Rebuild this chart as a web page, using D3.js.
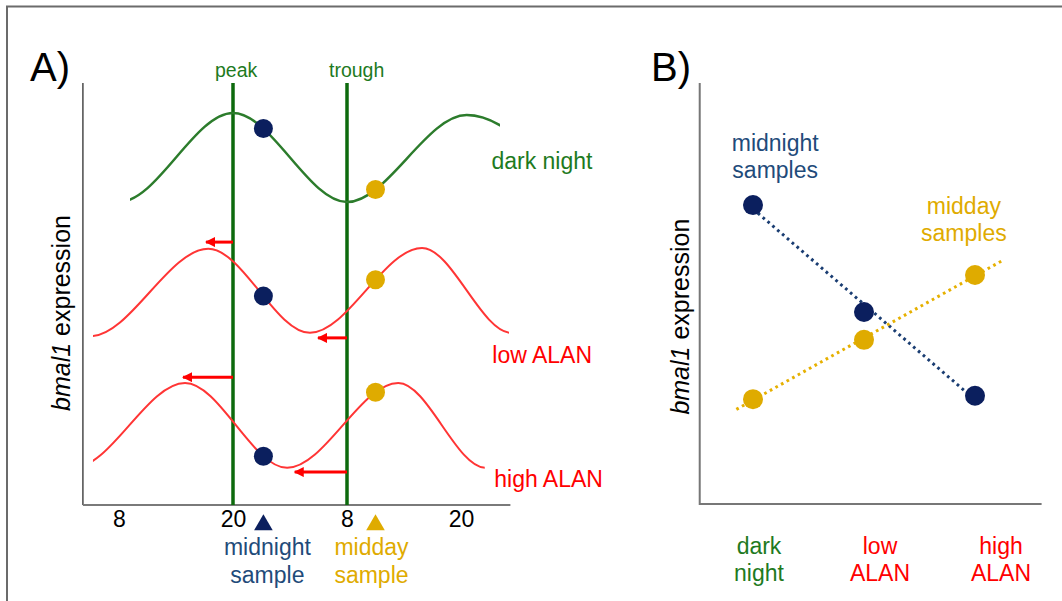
<!DOCTYPE html>
<html>
<head>
<meta charset="utf-8">
<script src="https://cdn.jsdelivr.net/npm/d3@7"></script>
<style>
  html, body { margin: 0; padding: 0; background: #fff; }
  svg { display: block; font-family: "Liberation Sans", Arial, sans-serif; }
</style>
</head>
<body>
<svg id="chart" width="1062" height="601"></svg>
<script>
// ---- Panel A data (time in hours, level in arbitrary expression units 0-100) ----
const timeTicks = [8, 20, 32, 44];
const timeTickLabels = ['8', '20', '8', '20'];
const axisTimeRange = [4.2, 49.2];
const refTimes = [20, 32];
const refLabels = ['peak', 'trough'];

// peaks / troughs of each rhythm (one extra cycle point each side), and the visible part
const darkTimes = [-4, 8, 20, 32, 44.6, 56.6];
const darkLevels = [92.9, 71.8, 92.9, 71.8, 92.4, 71.8];
const darkVisible = [9.16, 48.1];

const lowTimes = [-6.5, 5.0, 17.4, 28.1, 39.9, 49.3, 60.5];
const lowLevels = [60.7, 40.0, 60.7, 40.8, 60.9, 40.8, 60.9];
const lowVisible = [5.26, 49.05];

const highTimes = [-8.5, 3.2, 14.95, 25.7, 37.4, 46.6, 57];
const highLevels = [28.9, 8.8, 28.9, 8.8, 28.9, 8.8, 28.9];
const highVisible = [5.26, 46.5];

const curveNames = ['dark night', 'low ALAN', 'high ALAN'];
const curveLabelLevels = [79.6, 33.6, 4.3];
const curveLabelTimes = [47.2, 47.3, 47.5];

const sampleTimes = [23.2, 35.0];
const sampleNames = [['midnight', 'sample'], ['midday', 'sample']];

// phase shift arrows: [from, to, level]
const lowArrows = [[20, 17.16, 62.3], [32, 28.95, 39.6]];
const highArrows = [[20, 14.74, 30.3], [32, 26.5, 7.8]];

// ---- Panel B data ----
const conditions = ['dark night', 'low ALAN', 'high ALAN'];
const conditionLines = [['dark', 'night'], ['low', 'ALAN'], ['high', 'ALAN']];
const midnightValues = [7.10, 4.56, 2.57];
const middayValues = [2.49, 3.90, 5.44];
const midnightTrendSpan = [0, 2];
const middayTrendSpan = [-0.15, 2.25];

const GREEN = '#1e7a1e', GREEN_LINE = '#0d6a0d', GREEN_CURVE = '#2c7c2c';
const RED = '#ff0000', RED_CURVE = '#ff3535';
const NAVY = '#0b1f5e', NAVY_TEXT = '#1f4b7a', GOLD = '#dfab00', GOLD_LINE = '#e6b000';

const svg = d3.select('#chart');

// outer frame (top and left edges only)
svg.append('path')
  .attr('d', 'M7,601 V6.5 H1062')
  .attr('fill', 'none')
  .attr('stroke', '#6b6b6b')
  .attr('stroke-width', 2);

// ================= Panel A =================
const xA = d3.scaleLinear().domain([8, 44]).range([119, 461]);
const yA = d3.scaleLinear().domain([0, 100]).range([505, 83]);
const gA = svg.append('g');

gA.append('text')
  .attr('x', 30).attr('y', 81)
  .attr('font-size', 40)
  .text('A)');

// axes
gA.append('line')
  .attr('x1', xA(axisTimeRange[0])).attr('x2', xA(axisTimeRange[0]))
  .attr('y1', yA(100)).attr('y2', yA(0))
  .attr('stroke', '#4a4a4a').attr('stroke-width', 1.5);
gA.append('line')
  .attr('x1', xA(axisTimeRange[0])).attr('x2', xA(axisTimeRange[1]))
  .attr('y1', yA(0)).attr('y2', yA(0))
  .attr('stroke', '#7a7a7a').attr('stroke-width', 2);

const xAxisA = d3.axisBottom(xA)
  .tickValues(timeTicks)
  .tickSize(0)
  .tickPadding(6)
  .tickFormat((d, i) => timeTickLabels[i]);
const axA = gA.append('g').attr('transform', `translate(0,${yA(0)})`).call(xAxisA);
axA.attr('font-size', null).attr('font-family', null);
axA.select('.domain').remove();
axA.selectAll('text')
  .attr('font-size', 23)
  .attr('fill', '#000');

// y label
const yLabA = gA.append('text')
  .attr('transform', `translate(70,${yA(45.5)}) rotate(-90)`)
  .attr('text-anchor', 'middle')
  .attr('font-size', 25);
yLabA.append('tspan').attr('font-style', 'italic').text('bmal1');
yLabA.append('tspan').text(' expression');

// peak / trough lines
refTimes.forEach((t, i) => {
  gA.append('line')
    .attr('x1', xA(t)).attr('x2', xA(t))
    .attr('y1', yA(100)).attr('y2', yA(0))
    .attr('stroke', GREEN_LINE).attr('stroke-width', 3.5);
  gA.append('text')
    .attr('x', xA(t) - 18).attr('y', 77)
    .attr('font-size', 19.5)
    .attr('fill', GREEN)
    .text(refLabels[i]);
});

// clip each curve to its visible window
const defs = svg.append('defs');
const curveSets = [
  { times: darkTimes, levels: darkLevels, visible: darkVisible, color: GREEN_CURVE, width: 2.5, label: GREEN },
  { times: lowTimes, levels: lowLevels, visible: lowVisible, color: RED_CURVE, width: 2, label: RED },
  { times: highTimes, levels: highLevels, visible: highVisible, color: RED_CURVE, width: 2, label: RED }
];

const line = d3.line()
  .x(d => xA(d[0]))
  .y(d => yA(d[1]))
  .curve(d3.curveMonotoneX);

// find y on a drawn path at a given x
function yAtX(pathNode, px) {
  const total = pathNode.getTotalLength();
  let lo = 0, hi = total;
  for (let k = 0; k < 40; k++) {
    const mid = (lo + hi) / 2;
    if (pathNode.getPointAtLength(mid).x < px) lo = mid; else hi = mid;
  }
  return pathNode.getPointAtLength((lo + hi) / 2).y;
}

defs.append('marker')
  .attr('id', 'arrowhead')
  .attr('viewBox', '0 0 10 10')
  .attr('refX', 9).attr('refY', 5)
  .attr('markerUnits', 'userSpaceOnUse')
  .attr('markerWidth', 11).attr('markerHeight', 10)
  .attr('orient', 'auto')
  .append('path')
  .attr('d', 'M0,0 L10,5 L0,10 Z')
  .attr('fill', RED);

curveSets.forEach((c, i) => {
  const clipId = 'clip' + i;
  defs.append('clipPath').attr('id', clipId)
    .append('rect')
    .attr('x', xA(c.visible[0])).attr('width', xA(c.visible[1]) - xA(c.visible[0]))
    .attr('y', 0).attr('height', 601);
  const pts = c.times.map((t, j) => [t, c.levels[j]]);
  const p = gA.append('path')
    .datum(pts)
    .attr('d', line)
    .attr('fill', 'none')
    .attr('stroke', c.color)
    .attr('stroke-width', c.width)
    .attr('clip-path', `url(#${clipId})`);
  c.node = p.node();

  gA.append('text')
    .attr('x', xA(curveLabelTimes[i])).attr('y', yA(curveLabelLevels[i]))
    .attr('font-size', 23)
    .attr('fill', c.label)
    .text(curveNames[i]);
});

// phase shift arrows
[lowArrows, highArrows].forEach(arr => {
  arr.forEach(a => {
    gA.append('line')
      .attr('x1', xA(a[0])).attr('x2', xA(a[1]))
      .attr('y1', yA(a[2])).attr('y2', yA(a[2]))
      .attr('stroke', RED).attr('stroke-width', 3)
      .attr('marker-end', 'url(#arrowhead)');
  });
});

// sample dots on each curve
curveSets.forEach(c => {
  sampleTimes.forEach((t, j) => {
    gA.append('circle')
      .attr('cx', xA(t))
      .attr('cy', yAtX(c.node, xA(t)))
      .attr('r', 9.5)
      .attr('fill', j === 0 ? NAVY : GOLD);
  });
});

// sample markers and labels
sampleTimes.forEach((t, j) => {
  gA.append('path')
    .attr('d', d3.symbol(d3.symbolTriangle, 150))
    .attr('transform', `translate(${xA(t)},525)`)
    .attr('fill', j === 0 ? NAVY : GOLD);
  sampleNames[j].forEach((s, k) => {
    gA.append('text')
      .attr('x', xA(t) + (j === 0 ? 4 : -4)).attr('y', 555 + k * 28)
      .attr('text-anchor', 'middle')
      .attr('font-size', 23)
      .attr('fill', j === 0 ? NAVY_TEXT : GOLD)
      .text(s);
  });
});

// ================= Panel B =================
const xB = d3.scalePoint().domain(conditions).range([753, 975]);
const xBLabel = d3.scalePoint().domain(conditions).range([759, 1001]);
const xBIndex = d3.scaleLinear().domain([0, 2]).range([753, 975]);
const yB = d3.scaleLinear().domain([0, 10]).range([504, 83]);
const gB = svg.append('g');

gB.append('text')
  .attr('x', 651).attr('y', 81)
  .attr('font-size', 40)
  .text('B)');

gB.append('path')
  .attr('d', `M${xBIndex(-0.48)},${yB(10)} V${yB(0)} H${xBIndex(2.6)}`)
  .attr('fill', 'none')
  .attr('stroke', '#777')
  .attr('stroke-width', 2);

const yLabB = gB.append('text')
  .attr('transform', `translate(689,${yB(4.45)}) rotate(-90)`)
  .attr('text-anchor', 'middle')
  .attr('font-size', 25);
yLabB.append('tspan').attr('font-style', 'italic').text('bmal1');
yLabB.append('tspan').text(' expression');

// least squares trend line over category index
function trend(values, span) {
  const mx = d3.mean(values, (v, i) => i);
  const my = d3.mean(values);
  let sxy = 0, sxx = 0;
  values.forEach((v, i) => { sxy += (i - mx) * (v - my); sxx += (i - mx) * (i - mx); });
  const b = sxy / sxx, a = my - b * mx;
  return span.map(i => [i, a + b * i]);
}

const trendLine = d3.line().x(d => xBIndex(d[0])).y(d => yB(d[1]));
[[midnightValues, midnightTrendSpan, '#1a3d72'], [middayValues, middayTrendSpan, GOLD_LINE]].forEach(s => {
  gB.append('path')
    .attr('d', trendLine(trend(s[0], s[1])))
    .attr('fill', 'none')
    .attr('stroke', s[2])
    .attr('stroke-width', 3)
    .attr('stroke-dasharray', '2.7 3.7');
});

[[midnightValues, NAVY], [middayValues, GOLD]].forEach(s => {
  gB.selectAll(null)
    .data(s[0])
    .enter()
    .append('circle')
    .attr('cx', (d, i) => xB(conditions[i]))
    .attr('cy', d => yB(d))
    .attr('r', 10)
    .attr('fill', s[1]);
});

// series labels
[['midnight', 'samples'], ['midday', 'samples']].forEach((lines, j) => {
  lines.forEach((s, k) => {
    gB.append('text')
      .attr('x', j === 0 ? xBIndex(0.2) : xBIndex(1.9))
      .attr('y', (j === 0 ? 151 : 214) + k * 27)
      .attr('text-anchor', 'middle')
      .attr('font-size', 23)
      .attr('fill', j === 0 ? NAVY_TEXT : GOLD)
      .text(s);
  });
});

// category labels
conditions.forEach((c, i) => {
  conditionLines[i].forEach((s, k) => {
    gB.append('text')
      .attr('x', xBLabel(c)).attr('y', 554 + k * 27)
      .attr('text-anchor', 'middle')
      .attr('font-size', 23)
      .attr('fill', i === 0 ? GREEN : RED)
      .text(s);
  });
});
</script>
</body>
</html>
